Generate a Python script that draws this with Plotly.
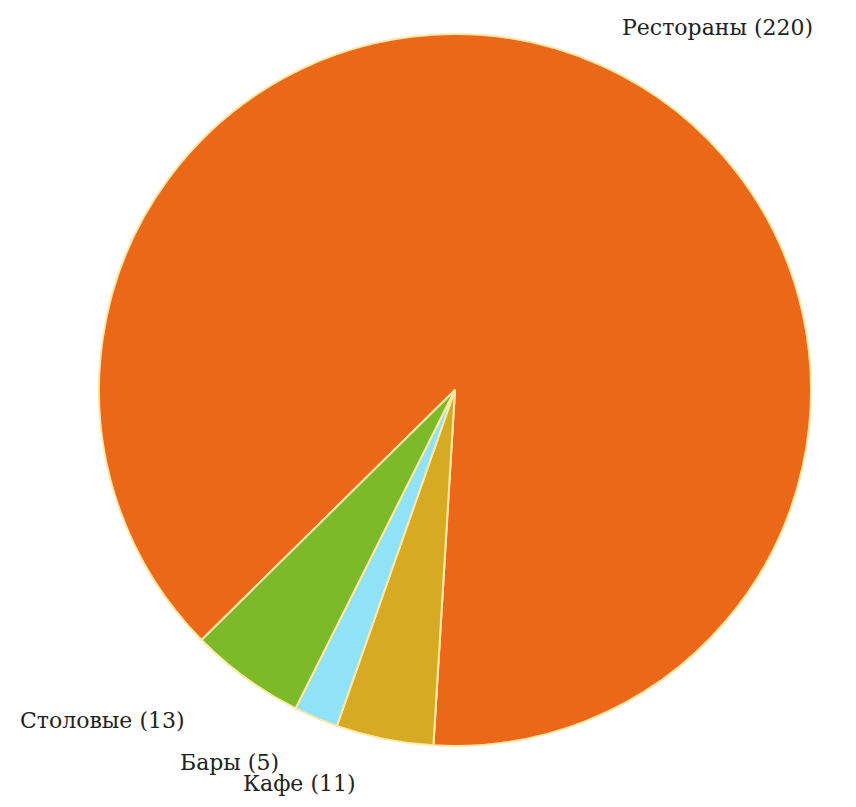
import plotly.graph_objects as go

categories = ["Рестораны", "Кафе", "Бары", "Столовые"]
values = [220, 11, 5, 13]
colors = ["#EC6819", "#D6AA22", "#90E2F6", "#7DBA2A"]

labels_text = [f"{c} ({v})" for c, v in zip(categories, values)]

W, H = 856, 807
OFF = 8  # page body margin in the browser

cx, cy, r = 455 - OFF, 390 - OFF, 356

fig = go.Figure(go.Pie(
    labels=categories,
    values=values,
    sort=False,
    direction="clockwise",
    rotation=225.4,
    marker=dict(colors=colors, line=dict(color="#FFE9A8", width=2)),
    textinfo="none",
    hoverinfo="label+value",
    domain=dict(x=[(cx - r) / W, (cx + r) / W],
                y=[1 - (cy + r) / H, 1 - (cy - r) / H]),
    showlegend=False,
))

# label positions (pixel, left edge / vertical center)
label_pos = [(620, 27), (241, 783), (178, 762), (18, 720)]
for t, (px, py) in zip(labels_text, label_pos):
    fig.add_annotation(
        text=t, xref="paper", yref="paper",
        x=(px - OFF) / W, y=1 - (py - OFF) / H, xanchor="left", yanchor="middle",
        showarrow=False,
        font=dict(family="DejaVu Serif", size=22, color="#222222"),
    )

fig.update_layout(
    width=W, height=H,
    margin=dict(l=0, r=0, t=0, b=0),
    paper_bgcolor="white", plot_bgcolor="white",
    font=dict(family="DejaVu Serif"),
)

fig.write_html("out.html")
